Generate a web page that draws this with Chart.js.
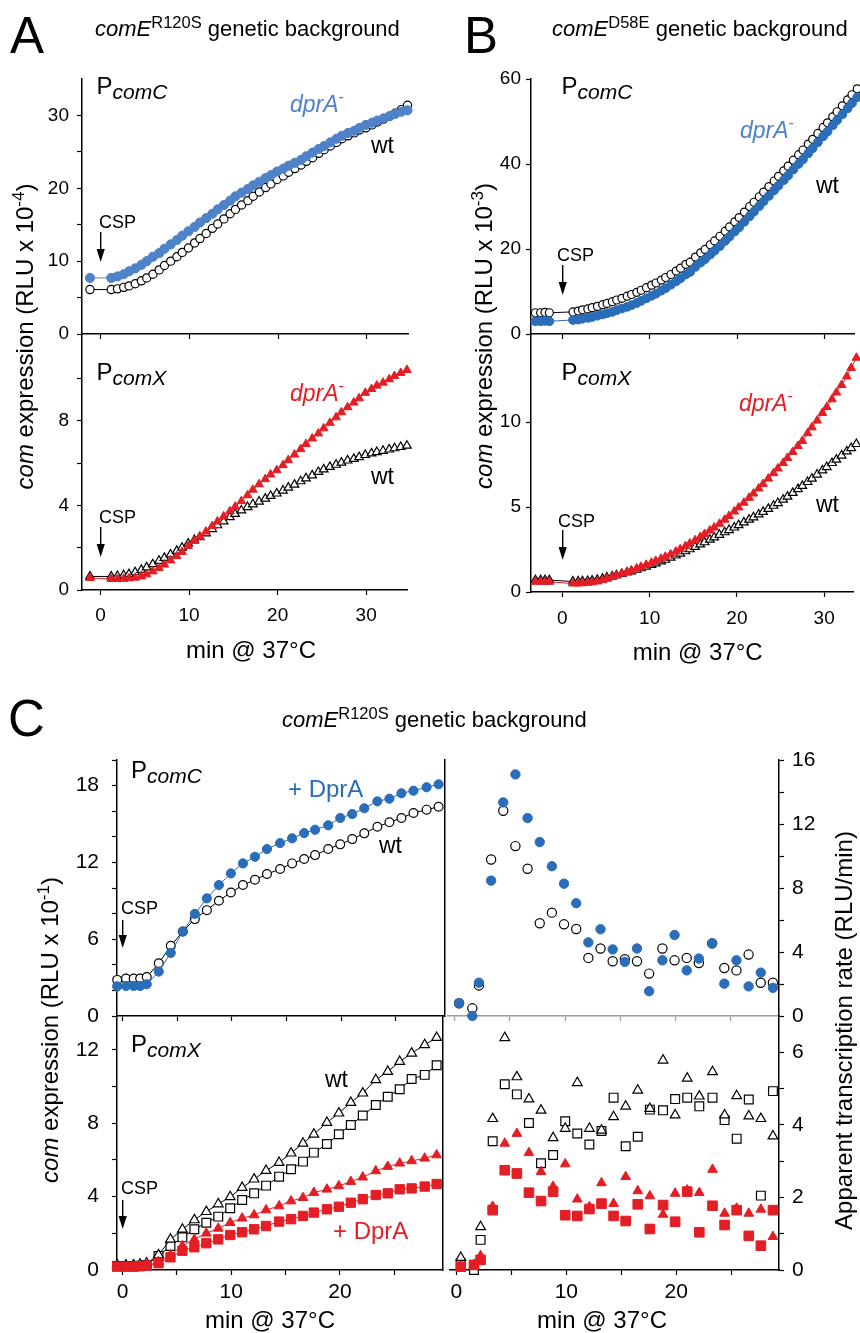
<!DOCTYPE html>
<html>
<head>
<meta charset="utf-8">
<script src="https://cdn.jsdelivr.net/npm/chart.js"></script>
<style>
  body { margin: 0; background: #fff; width: 860px; height: 1333px; position: relative; overflow: hidden;
         font-family: "Liberation Sans", Arial, sans-serif; }
  canvas { position: absolute; }
  svg { position: absolute; left: 0; top: 0; pointer-events: none; }
</style>
</head>
<body>
<canvas id="cA1" width="392" height="315" style="left:22px;top:49px"></canvas>
<canvas id="cA2" width="392" height="326" style="left:22px;top:304px"></canvas>
<canvas id="cB1" width="389" height="315" style="left:471px;top:49px"></canvas>
<canvas id="cB2" width="389" height="328" style="left:471px;top:304px"></canvas>
<canvas id="cC1" width="393" height="316" style="left:57px;top:730px"></canvas>
<canvas id="cC2" width="393" height="324" style="left:57px;top:986px"></canvas>
<canvas id="cC3" width="397" height="316" style="left:442px;top:730px"></canvas>
<canvas id="cC4" width="397" height="324" style="left:442px;top:986px"></canvas>

<svg width="860" height="1333" font-family="Liberation Sans, Arial, sans-serif">
  <!-- panel letters and titles -->
  <text x="10" y="53" font-size="51">A</text>
  <text x="95" y="36" font-size="22"><tspan font-style="italic">comE</tspan><tspan dy="-8" font-size="16.5">R120S</tspan><tspan dy="8"> genetic background</tspan></text>
  <text x="464" y="53" font-size="51">B</text>
  <text x="552" y="36" font-size="22"><tspan font-style="italic">comE</tspan><tspan dy="-8" font-size="16.5">D58E</tspan><tspan dy="8"> genetic background</tspan></text>
  <text x="8" y="736" font-size="51">C</text>
  <text x="282" y="727" font-size="22"><tspan font-style="italic">comE</tspan><tspan dy="-8" font-size="16.5">R120S</tspan><tspan dy="8"> genetic background</tspan></text>

  <!-- axis titles -->
  <text transform="translate(33,336.5) rotate(-90)" text-anchor="middle" font-size="24"><tspan font-style="italic">com</tspan> expression (RLU x 10<tspan dy="-9" font-size="17">-4</tspan><tspan dy="9">)</tspan></text>
  <text transform="translate(491.7,336) rotate(-90)" text-anchor="middle" font-size="24"><tspan font-style="italic">com</tspan> expression (RLU x 10<tspan dy="-9" font-size="17">-3</tspan><tspan dy="9">)</tspan></text>
  <text transform="translate(58.3,1030) rotate(-90)" text-anchor="middle" font-size="24"><tspan font-style="italic">com</tspan> expression (RLU x 10<tspan dy="-9" font-size="17">-1</tspan><tspan dy="9">)</tspan></text>
  <text transform="translate(851.7,1030.5) rotate(-90)" text-anchor="middle" font-size="24">Apparent transcription rate (RLU/min)</text>
  <text x="251" y="658" text-anchor="middle" font-size="24">min @ 37°C</text>
  <text x="697.7" y="660" text-anchor="middle" font-size="24">min @ 37°C</text>
  <text x="270" y="1328" text-anchor="middle" font-size="24">min @ 37°C</text>
  <text x="602" y="1328" text-anchor="middle" font-size="24">min @ 37°C</text>

  <!-- panel A annotations -->
  <text x="96.5" y="94" font-size="24">P<tspan font-size="21" font-style="italic" dy="5">comC</tspan></text>
  <text x="290" y="112" font-size="23" font-style="italic" fill="#4f82c8">dprA<tspan dy="-10" font-size="16" font-style="normal">-</tspan></text>
  <text x="371" y="153" font-size="23">wt</text>
  <text x="99" y="228" font-size="18">CSP</text>
  <line x1="100.7" y1="232" x2="100.7" y2="251" stroke="#000" stroke-width="1.4"/>
  <polygon points="96.6,249 104.8,249 100.7,262" fill="#000"/>

  <text x="96.5" y="380" font-size="24">P<tspan font-size="21" font-style="italic" dy="5">comX</tspan></text>
  <text x="290" y="401" font-size="23" font-style="italic" fill="#e31e24">dprA<tspan dy="-10" font-size="16" font-style="normal">-</tspan></text>
  <text x="371" y="484" font-size="23">wt</text>
  <text x="99" y="523" font-size="18">CSP</text>
  <line x1="100.7" y1="527" x2="100.7" y2="546" stroke="#000" stroke-width="1.4"/>
  <polygon points="96.6,544 104.8,544 100.7,557" fill="#000"/>

  <!-- panel B annotations -->
  <text x="561.5" y="94" font-size="24">P<tspan font-size="21" font-style="italic" dy="5">comC</tspan></text>
  <text x="740" y="138" font-size="23" font-style="italic" fill="#4f82c8">dprA<tspan dy="-10" font-size="16" font-style="normal">-</tspan></text>
  <text x="816" y="193" font-size="23">wt</text>
  <text x="557" y="261" font-size="18">CSP</text>
  <line x1="562.7" y1="265" x2="562.7" y2="284" stroke="#000" stroke-width="1.4"/>
  <polygon points="558.6,282 566.8,282 562.7,295" fill="#000"/>

  <text x="561.5" y="380" font-size="24">P<tspan font-size="21" font-style="italic" dy="5">comX</tspan></text>
  <text x="739" y="411" font-size="23" font-style="italic" fill="#e31e24">dprA<tspan dy="-10" font-size="16" font-style="normal">-</tspan></text>
  <text x="816" y="512" font-size="23">wt</text>
  <text x="558" y="527" font-size="18">CSP</text>
  <line x1="562.7" y1="530" x2="562.7" y2="549" stroke="#000" stroke-width="1.4"/>
  <polygon points="558.6,547 566.8,547 562.7,560" fill="#000"/>

  <!-- panel C annotations -->
  <text x="131" y="778" font-size="24">P<tspan font-size="21" font-style="italic" dy="5">comC</tspan></text>
  <text x="288" y="797" font-size="24" fill="#2a6db8">+ DprA</text>
  <text x="379" y="853" font-size="23">wt</text>
  <text x="121" y="914" font-size="18">CSP</text>
  <line x1="122.7" y1="920" x2="122.7" y2="937" stroke="#000" stroke-width="1.4"/>
  <polygon points="118.6,935 126.8,935 122.7,948" fill="#000"/>

  <text x="131" y="1052" font-size="24">P<tspan font-size="21" font-style="italic" dy="5">comX</tspan></text>
  <text x="325" y="1087" font-size="23">wt</text>
  <text x="333" y="1239" font-size="24" fill="#e31e24">+ DprA</text>
  <text x="121" y="1194" font-size="18">CSP</text>
  <line x1="122.7" y1="1200" x2="122.7" y2="1218" stroke="#000" stroke-width="1.4"/>
  <polygon points="118.6,1216 126.8,1216 122.7,1229" fill="#000"/>
</svg>

<script>
"use strict";
// ========== DATA ========== //
// panel A, comE R120S background (min after CSP)
const timeA = [-1.2, 1.2, 1.9, 2.6, 3.2, 3.9, 4.6, 5.2, 5.9, 6.6, 7.2, 7.9, 8.6, 9.2, 9.9, 10.6, 11.2, 11.9, 12.6, 13.2,
  13.9, 14.6, 15.2, 15.9, 16.6, 17.2, 17.9, 18.6, 19.2, 19.9, 20.6, 21.2, 21.9, 22.6, 23.2, 23.9, 24.6, 25.2, 25.9, 26.6,
  27.2, 27.9, 28.6, 29.2, 29.9, 30.6, 31.2, 31.9, 32.6, 33.2, 33.9, 34.6];
const comC_A_dprA = [7.7, 7.7, 7.9, 8.2, 8.6, 9.0, 9.5, 10.0, 10.6, 11.1, 11.7, 12.3, 12.9, 13.5, 14.1, 14.7, 15.3, 15.9, 16.5, 17.1,
  17.7, 18.3, 18.9, 19.4, 19.9, 20.4, 20.9, 21.4, 21.8, 22.3, 22.7, 23.1, 23.5, 23.9, 24.4, 24.9, 25.4, 25.8, 26.3, 26.8,
  27.2, 27.6, 27.9, 28.3, 28.7, 29.0, 29.3, 29.6, 29.9, 30.2, 30.5, 30.7];
const comC_A_wt = [6.1, 6.1, 6.2, 6.4, 6.6, 6.9, 7.3, 7.7, 8.2, 8.8, 9.4, 10.0, 10.6, 11.2, 11.8, 12.5, 13.1, 13.8, 14.5, 15.1,
  15.8, 16.5, 17.1, 17.7, 18.3, 18.9, 19.5, 20.1, 20.6, 21.2, 21.7, 22.2, 22.7, 23.2, 23.7, 24.2, 24.8, 25.3, 25.8, 26.3,
  26.8, 27.2, 27.6, 28.0, 28.3, 28.7, 29.1, 29.5, 29.9, 30.3, 30.8, 31.4];
const comX_A_dprA = [0.57, 0.52, 0.52, 0.53, 0.55, 0.58, 0.64, 0.74, 0.88, 1.04, 1.2, 1.4, 1.6, 1.8, 2.08, 2.32, 2.52, 2.76, 3.02, 3.24,
  3.48, 3.72, 3.94, 4.2, 4.48, 4.74, 5.0, 5.24, 5.46, 5.66, 5.9, 6.14, 6.4, 6.66, 6.9, 7.16, 7.4, 7.64, 7.9, 8.16,
  8.4, 8.64, 8.86, 9.06, 9.32, 9.5, 9.66, 9.8, 9.96, 10.12, 10.26, 10.4];
const comX_A_wt = [0.64, 0.64, 0.66, 0.7, 0.75, 0.84, 0.95, 1.07, 1.22, 1.38, 1.52, 1.68, 1.85, 2.0, 2.2, 2.36, 2.5, 2.68, 2.88, 3.06,
  3.24, 3.44, 3.6, 3.76, 3.92, 4.05, 4.18, 4.32, 4.45, 4.56, 4.7, 4.84, 4.98, 5.14, 5.28, 5.42, 5.58, 5.7, 5.82, 5.92,
  6.02, 6.12, 6.2, 6.28, 6.38, 6.46, 6.52, 6.58, 6.64, 6.7, 6.76, 6.82];

// panel B, comE D58E background
const timeB = [-3.1, -2.5, -2.0, -1.5, 1.2, 1.8, 2.3, 2.9, 3.4, 4.0, 4.6, 5.1, 5.7, 6.2, 6.8, 7.4, 7.9, 8.5, 9.0, 9.6,
  10.2, 10.7, 11.3, 11.8, 12.4, 13.0, 13.5, 14.1, 14.6, 15.2, 15.8, 16.3, 16.9, 17.4, 18.0, 18.6, 19.1, 19.7, 20.2, 20.8,
  21.4, 21.9, 22.5, 23.0, 23.6, 24.2, 24.7, 25.3, 25.8, 26.4, 27.0, 27.5, 28.1, 28.6, 29.2, 29.8, 30.3, 30.9, 31.4, 32.0,
  32.6, 33.1, 33.7];
const comC_B_wt = [5.0, 5.0, 5.1, 5.0, 5.2, 5.4, 5.7, 5.9, 6.2, 6.5, 6.9, 7.2, 7.6, 8.0, 8.4, 8.9, 9.3, 9.8, 10.3, 10.9,
  11.5, 12.0, 12.7, 13.3, 14.0, 14.8, 15.5, 16.4, 16.9, 18.1, 19.1, 19.9, 21.0, 21.9, 23.0, 24.2, 25.2, 26.4, 27.4, 28.7,
  30.0, 31.0, 32.3, 33.4, 34.7, 36.0, 37.1, 38.4, 39.5, 40.9, 42.2, 43.3, 44.7, 45.8, 47.2, 48.6, 49.7, 51.1, 52.3, 53.7,
  55.1, 56.3, 57.7];
const comC_B_dprA = [3.0, 3.0, 3.1, 3.0, 3.3, 3.4, 3.6, 3.8, 4.0, 4.3, 4.6, 4.9, 5.2, 5.6, 6.0, 6.4, 6.8, 7.3, 7.8, 8.4,
  9.0, 9.5, 10.2, 10.8, 11.6, 12.4, 13.1, 14.0, 14.6, 15.8, 16.8, 17.6, 18.7, 19.6, 20.7, 21.9, 22.9, 24.1, 25.1, 26.4,
  27.7, 28.8, 30.1, 31.2, 32.5, 33.8, 34.9, 36.2, 37.3, 38.7, 40.0, 41.1, 42.5, 43.7, 45.1, 46.5, 47.6, 49.1, 50.3, 51.7,
  53.1, 54.3, 55.7];
const comX_B_dprA = [0.6, 0.6, 0.6, 0.6, 0.5, 0.5, 0.52, 0.54, 0.57, 0.62, 0.7, 0.78, 0.88, 0.97, 1.08, 1.18, 1.27, 1.38, 1.48, 1.6,
  1.72, 1.83, 1.96, 2.08, 2.22, 2.38, 2.52, 2.7, 2.86, 3.05, 3.24, 3.42, 3.62, 3.8, 4.02, 4.26, 4.48, 4.74, 4.98, 5.26,
  5.55, 5.8, 6.1, 6.36, 6.68, 7.0, 7.28, 7.6, 7.9, 8.25, 8.6, 8.9, 9.35, 9.7, 10.1, 10.55, 10.9, 11.35, 11.75, 12.2,
  12.7, 13.2, 13.8];
const comX_B_wt = [0.7, 0.7, 0.7, 0.7, 0.62, 0.62, 0.63, 0.65, 0.67, 0.72, 0.78, 0.85, 0.92, 0.99, 1.07, 1.15, 1.22, 1.31, 1.4, 1.5,
  1.6, 1.69, 1.8, 1.9, 2.02, 2.15, 2.26, 2.4, 2.52, 2.66, 2.8, 2.93, 3.08, 3.22, 3.37, 3.52, 3.65, 3.8, 3.94, 4.1,
  4.26, 4.4, 4.57, 4.72, 4.9, 5.08, 5.24, 5.44, 5.62, 5.84, 6.06, 6.25, 6.48, 6.68, 6.92, 7.16, 7.36, 7.6, 7.8, 8.04,
  8.28, 8.48, 8.72];

// panel C, cumulative expression
const timeC = [-0.5, 0.3, 1.0, 1.6, 2.2, 3.3, 4.4, 5.5, 6.6, 7.7, 8.8, 9.9, 11.0, 12.1, 13.2, 14.4, 15.5, 16.6, 17.6, 18.8,
  19.9, 21.0, 22.1, 23.3, 24.4, 25.5, 26.6, 27.8, 28.9];
const comC_C_dprA = [2.32, 2.35, 2.35, 2.35, 2.48, 3.47, 4.93, 6.6, 7.98, 9.19, 10.23, 11.14, 11.92, 12.44, 13.04, 13.51, 13.88, 14.29, 14.55, 14.9,
  15.47, 15.78, 16.23, 16.77, 16.98, 17.4, 17.6, 17.87, 18.1];
const comC_C_wt = [2.82, 2.93, 2.93, 2.93, 3.05, 4.12, 5.48, 6.6, 7.57, 8.27, 9.0, 9.65, 10.23, 10.64, 11.09, 11.48, 11.92, 12.26, 12.57, 13.04,
  13.41, 13.82, 14.27, 14.79, 15.13, 15.47, 15.86, 16.12, 16.35];
const comX_C_wtTri = [0.27, 0.27, 0.27, 0.31, 0.37, 0.82, 1.67, 2.22, 2.73, 3.18, 3.6, 3.99, 4.49, 4.95, 5.42, 5.86, 6.37, 6.91, 7.4, 8.04,
  8.55, 9.13, 9.64, 10.37, 10.82, 11.36, 11.82, 12.28, 12.67];
const comX_C_wtSq = [0.22, 0.22, 0.22, 0.23, 0.27, 0.76, 1.31, 1.78, 2.22, 2.58, 2.91, 3.37, 3.82, 4.18, 4.6, 5.09, 5.49, 5.91, 6.4, 6.87,
  7.4, 7.91, 8.42, 9.0, 9.45, 9.86, 10.41, 10.64, 11.16];
const comX_C_dprTri = [0.18, 0.18, 0.18, 0.18, 0.22, 0.45, 0.82, 1.31, 1.67, 2.0, 2.27, 2.58, 2.82, 3.0, 3.27, 3.49, 3.76, 3.94, 4.22, 4.4,
  4.58, 4.82, 5.06, 5.4, 5.64, 5.82, 5.95, 6.09, 6.27];
const comX_C_dprSq = [0.18, 0.18, 0.18, 0.2, 0.24, 0.37, 0.69, 1.05, 1.24, 1.46, 1.67, 1.91, 2.06, 2.22, 2.4, 2.64, 2.77, 2.95, 3.13, 3.31,
  3.45, 3.67, 3.86, 4.09, 4.18, 4.4, 4.45, 4.55, 4.69];

// panel C, apparent transcription rate
const timeRate = [0.4, 1.6, 2.2, 3.3, 4.4, 5.5, 6.6, 7.7, 8.8, 9.9, 11.0, 12.1, 13.2, 14.3, 15.4, 16.5, 17.6, 18.8, 19.9, 21.0,
  22.1, 23.3, 24.4, 25.5, 26.6, 27.7, 28.8];
const rateC_dprA = [0.8, 0.0, 2.08, 8.46, 13.35, 15.1, 12.37, 10.87, 9.36, 8.27, 7.05, 4.6, 5.42, 4.16, 3.38, 4.22, 1.55, 3.48, 5.06, 2.85,
  3.59, 4.54, 2.02, 3.48, 1.85, 2.71, 1.76];
const rateC_wt = [0.8, 0.48, 1.91, 9.78, 12.83, 10.62, 9.2, 5.8, 6.46, 5.73, 5.44, 3.63, 4.22, 3.42, 3.55, 3.42, 2.65, 4.22, 3.48, 3.63,
  3.31, 4.54, 3.0, 2.85, 3.84, 2.08, 2.08];
const rateX_wtTri = [0.34, 0.1, 1.19, 4.17, 6.4, 5.32, 4.71, 4.4, 3.64, 3.9, 5.16, 3.9, 3.85, 4.22, 4.51, 4.95, 4.45, 5.78, 4.27, 5.28,
  4.79, 5.46, 4.27, 4.8, 4.24, 4.17, 3.69];
const rateX_wtSq = [0.18, 0.0, 0.83, 3.55, 5.12, 4.84, 4.05, 2.94, 3.17, 4.1, 3.76, 3.46, 3.83, 4.75, 3.41, 3.67, 4.42, 4.4, 4.71, 4.75,
  4.51, 4.75, 4.13, 3.62, 4.7, 2.05, 4.93];
const rateX_dprTri = [0.1, 0.15, 0.39, 1.75, 3.49, 3.76, 3.23, 2.71, 2.3, 2.92, 1.95, 1.74, 2.4, 1.83, 2.57, 2.18, 2.04, 1.53, 2.11, 2.2,
  2.13, 2.77, 1.56, 1.7, 1.56, 1.67, 0.92];
const rateX_dprSq = [0.09, 0.14, 0.28, 1.65, 2.75, 2.66, 2.13, 1.9, 2.16, 1.51, 1.49, 1.68, 1.83, 1.49, 1.35, 1.81, 1.13, 1.79, 1.33, 2.16,
  1.04, 1.77, 1.24, 1.65, 0.94, 0.67, 1.65];

// tick marks (all) and the ticks that carry a label
const ticksX_AB = [0, 10, 20, 30];
const ticksX_C = [0, 5, 10, 15, 20, 25];
const labelsX_C = [0, 10, 20];
const ticksY_A1 = [0, 5, 10, 15, 20, 25, 30], labelsY_A1 = [0, 10, 20, 30];
const ticksY_A2 = [0, 2, 4, 6, 8, 10], labelsY_A2 = [0, 4, 8];
const ticksY_B1 = [0, 20, 40, 60];
const ticksY_B2 = [0, 5, 10];
const ticksY_C1 = [0, 2, 4, 6, 8, 10, 12, 14, 16, 18, 20], labelsY_C1 = [0, 6, 12, 18];
const ticksY_C2 = [0, 2, 4, 6, 8, 10, 12], labelsY_C2 = [0, 4, 8, 12];
const ticksY_C3 = [0, 2, 4, 6, 8, 10, 12, 14, 16], labelsY_C3 = [0, 4, 8, 12, 16];
const ticksY_C4 = [0, 1, 2, 3, 4, 5, 6], labelsY_C4 = [0, 2, 4, 6];

// ========== STYLES ========== //
const BLUE_A = "#4f82c8";
const BLUE = "#2a6db8";
const RED = "#e31e24";

Chart.defaults.font.family = '"Liberation Sans", Arial, sans-serif';
Chart.defaults.color = "#000";

function series(xs, ys, style) {
  return Object.assign({ data: xs.map((x, i) => ({ x: x, y: ys[i] })), clip: false }, style);
}
function open(shape, r, line) {
  return { pointStyle: shape, pointRadius: r, pointBackgroundColor: "#fff", pointBorderColor: "#000",
           pointBorderWidth: 1.2, borderColor: "#000", borderWidth: 1, showLine: line };
}
function filled(shape, r, color, line) {
  return { pointStyle: shape, pointRadius: r, pointBackgroundColor: color, pointBorderColor: color,
           pointBorderWidth: 1, borderColor: color, borderWidth: 1, showLine: line };
}

function xAxis(min, max, ticks, labels, o) {
  return {
    type: "linear", min: min, max: max,
    afterBuildTicks: s => { s.ticks = ticks.map(v => ({ value: v })); },
    afterFit: s => { s.height = labels ? 40 : 30; },
    ticks: { display: !!labels, autoSkip: false, maxRotation: 0, padding: o.pad, font: { size: o.size },
             callback: v => (labels && labels.indexOf(v) >= 0 ? String(v) : "") },
    grid: { drawOnChartArea: false, tickLength: 5, tickColor: o.color || "#000", tickWidth: 1.2 },
    border: { color: o.color || "#000", width: 1.5 }
  };
}
function yAxis(max, ticks, labels, o) {
  return {
    type: "linear", min: 0, max: max, position: o.right ? "right" : "left",
    afterBuildTicks: s => { s.ticks = ticks.map(v => ({ value: v })); },
    afterFit: s => { s.width = 60; },
    ticks: { autoSkip: false, padding: o.pad, font: { size: o.size },
             callback: v => (labels.indexOf(v) >= 0 ? String(v) : "") },
    grid: { drawOnChartArea: false, tickLength: 5, tickColor: "#000", tickWidth: 1.2 },
    border: { color: "#000", width: 1.5 }
  };
}
// a bare right-hand frame line
const frameRight = {
  type: "linear", position: "right", afterFit: s => { s.width = 0; },
  ticks: { display: false }, grid: { display: false }, border: { display: true, color: "#000", width: 1.5 }
};

function panel(id, datasets, scales, pad) {
  return new Chart(document.getElementById(id), {
    type: "scatter",
    data: { datasets: datasets },
    options: {
      responsive: false, animation: false, events: [],
      layout: { padding: pad },
      plugins: { legend: { display: false }, tooltip: { enabled: false } },
      scales: scales
    }
  });
}

// ========== PANEL A ========== //
panel("cA1", [
  series(timeA, comC_A_dprA, filled("circle", 4.6, BLUE_A, true)),
  series(timeA, comC_A_wt, open("circle", 4.1, true))
], {
  x: xAxis(-2.1, 34.7, ticksX_AB, null, {}),
  y: yAxis(35, ticksY_A1, labelsY_A1, { pad: 8, size: 19 })
}, { top: 30, right: 5 });

panel("cA2", [
  series(timeA, comX_A_dprA, filled("triangle", 5, RED, true)),
  series(timeA, comX_A_wt, open("triangle", 5, true))
], {
  x: xAxis(-2.1, 34.7, ticksX_AB, ticksX_AB, { pad: 9, size: 19 }),
  y: yAxis(12.1, ticksY_A2, labelsY_A2, { pad: 8, size: 19 })
}, { top: 30, right: 5 });

// ========== PANEL B ========== //
panel("cB1", [
  series(timeB, comC_B_dprA, filled("circle", 4.4, BLUE, true)),
  series(timeB, comC_B_wt, open("circle", 4, true))
], {
  x: xAxis(-3.6, 33.4, ticksX_AB, null, {}),
  y: yAxis(60, ticksY_B1, ticksY_B1, { pad: 5, size: 19 })
}, { top: 30, right: 0 });

panel("cB2", [
  series(timeB, comX_B_dprA, filled("triangle", 5, RED, true)),
  series(timeB, comX_B_wt, open("triangle", 5, true))
], {
  x: xAxis(-3.6, 33.4, ticksX_AB, ticksX_AB, { pad: 10, size: 19 }),
  y: yAxis(15.2, ticksY_B2, ticksY_B2, { pad: 5, size: 19 })
}, { top: 30, right: 0 });

// ========== PANEL C ========== //
panel("cC1", [
  series(timeC, comC_C_dprA, filled("circle", 4.6, BLUE, true)),
  series(timeC, comC_C_wt, open("circle", 4.4, true))
], {
  x: xAxis(-0.52, 29.43, ticksX_C, null, {}),
  y: yAxis(20, ticksY_C1, labelsY_C1, { pad: 13, size: 21 }),
  yr: frameRight
}, { top: 30, right: 2 });

panel("cC2", [
  series(timeC, comX_C_dprTri, filled("triangle", 5.6, RED, true)),
  series(timeC, comX_C_dprSq, filled("rect", 6.6, RED, true)),
  series(timeC, comX_C_wtTri, open("triangle", 5.6, true)),
  series(timeC, comX_C_wtSq, open("rect", 6.2, true))
], {
  x: xAxis(-0.52, 29.43, ticksX_C, labelsX_C, { pad: 5, size: 21 }),
  y: yAxis(13.85, ticksY_C2, labelsY_C2, { pad: 13, size: 21 }),
  yr: frameRight
}, { top: 30, right: 2 });

panel("cC3", [
  series(timeRate, rateC_dprA, filled("circle", 4.7, BLUE, false)),
  series(timeRate, rateC_wt, open("circle", 4.6, false))
], {
  x: xAxis(-0.6, 29.35, ticksX_C, null, { color: "#9a9a9a" }),
  y: yAxis(16, ticksY_C3, labelsY_C3, { pad: 8, size: 21, right: true })
}, { top: 30, left: 6, right: 0 });

panel("cC4", [
  series(timeRate, rateX_dprTri, filled("triangle", 5.6, RED, false)),
  series(timeRate, rateX_dprSq, filled("rect", 6.8, RED, false)),
  series(timeRate, rateX_wtTri, open("triangle", 5.6, false)),
  series(timeRate, rateX_wtSq, open("rect", 6.2, false))
], {
  x: xAxis(-0.6, 29.35, ticksX_C, labelsX_C, { pad: 5, size: 21 }),
  y: yAxis(7, ticksY_C4, labelsY_C4, { pad: 8, size: 21, right: true })
}, { top: 30, left: 6, right: 0 });
</script>
</body>
</html>
